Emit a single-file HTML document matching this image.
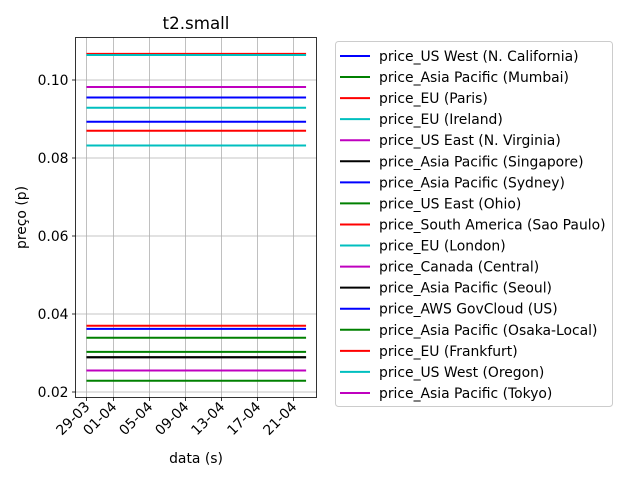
<!DOCTYPE html>
<html><head><meta charset="utf-8"><style>body{margin:0;background:#fff}svg{font-family:"DejaVu Sans","Liberation Sans",sans-serif}</style></head>
<body>
<svg id="c" width="640" height="480" xmlns="http://www.w3.org/2000/svg"></svg>
<script>
const seriesNames=["price_US West (N. California)","price_Asia Pacific (Mumbai)","price_EU (Paris)","price_EU (Ireland)","price_US East (N. Virginia)","price_Asia Pacific (Singapore)","price_Asia Pacific (Sydney)","price_US East (Ohio)","price_South America (Sao Paulo)","price_EU (London)","price_Canada (Central)","price_Asia Pacific (Seoul)","price_AWS GovCloud (US)","price_Asia Pacific (Osaka-Local)","price_EU (Frankfurt)","price_US West (Oregon)","price_Asia Pacific (Tokyo)"];
const seriesValues=[0.0955,0.0339,0.1067,0.1064,0.0982,0.0289,0.0893,0.0303,0.0870,0.0929,0.0255,0.0289,0.0362,0.0229,0.0370,0.0832,0.0255];
const colors=["#0000ff","#008000","#ff0000","#00bfbf","#bf00bf","#000000"];
const xTickLabels=["29-03","01-04","05-04","09-04","13-04","17-04","21-04"];
const xTickDays=[0,3,7,11,15,19,23];
const yTicks=[0.02,0.04,0.06,0.08,0.10];
const yTickLabels=["0.02","0.04","0.06","0.08","0.10"];
const dayStart=0, dayEnd=24.4;
const L=75.5,R=316.5,T=37.5,B=397.5;
const xmin=-1.22,xmax=25.56;
const FS=13.9;
const x=d=>L+(d-xmin)/(xmax-xmin)*(R-L);
const y=v=>392-(v-0.02)*3900;
const svg=document.getElementById('c');const NS="http://www.w3.org/2000/svg";
function mk(t,a,p){const e=document.createElementNS(NS,t);for(const k in a)e.setAttribute(k,a[k]);(p||svg).appendChild(e);return e;}
xTickDays.forEach((d,i)=>{
 const g=mk('line',{x1:x(d),x2:x(d),y1:T,y2:B,stroke:'#b0b0b0','stroke-width':0.8});
 
 const tk=mk('line',{x1:x(d),x2:x(d),y1:B,y2:B+3.5,stroke:'#000','stroke-width':0.8});
 
 const t=mk('text',{x:x(d)+4,y:B+10,'font-size':FS,'text-anchor':'end',transform:`rotate(-45 ${x(d)+4} ${B+10})`});
 t.textContent=xTickLabels[i];
 
});
yTicks.forEach((v,i)=>{
 const g=mk('line',{x1:L,x2:R,y1:y(v),y2:y(v),stroke:'#b0b0b0','stroke-width':0.8});
 
 const tk=mk('line',{x1:L-3.5,x2:L,y1:y(v),y2:y(v),stroke:'#000','stroke-width':0.8});
 
 const t=mk('text',{x:L-7,y:y(v)+5,'font-size':FS,'text-anchor':'end'});
 t.textContent=yTickLabels[i];
 
});
seriesValues.forEach((v,i)=>{
 const l=mk('line',{x1:x(dayStart),x2:x(dayEnd),y1:y(v),y2:y(v),stroke:colors[i%6],'stroke-width':2});
 
});
const fr=mk('rect',{x:L,y:T,width:R-L,height:B-T,fill:'none',stroke:'#000','stroke-width':0.8});

const ti=mk('text',{x:(L+R)/2,y:29,'font-size':16.7,'text-anchor':'middle'});ti.textContent='t2.small';

const xl=mk('text',{x:(L+R)/2,y:463,'font-size':FS,'text-anchor':'middle'});xl.textContent='data (s)';

const yl=mk('text',{x:26,y:(T+B)/2,'font-size':FS,'text-anchor':'middle',transform:`rotate(-90 26 ${(T+B)/2})`});yl.textContent='preço (p)';

const lg=mk('g',{});
const lb=mk('rect',{x:335.5,y:41.5,width:277,height:365,rx:3,fill:'#fff',stroke:'#cccccc','stroke-width':1},lg);

seriesNames.forEach((n,i)=>{
 const yy=56+i*21.06;
 const ln=mk('line',{x1:340,x2:370,y1:yy,y2:yy,stroke:colors[i%6],'stroke-width':2},lg);
 
 const t=mk('text',{x:379,y:yy+5,'font-size':FS},lg);t.textContent=n;
 
});
</script>
</body></html>
